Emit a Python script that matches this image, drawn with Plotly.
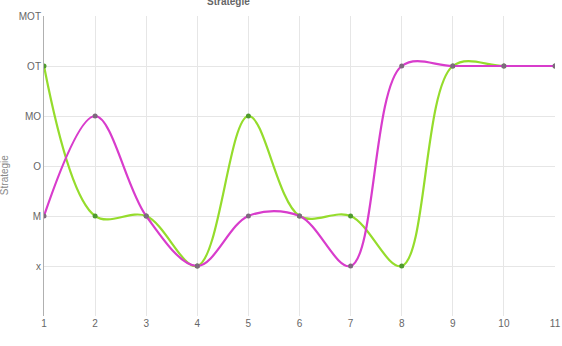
import plotly.graph_objects as go

x_vals = [1, 2, 3, 4, 5, 6, 7, 8, 9, 10, 11]
level_labels = ["x", "M", "O", "MO", "OT", "MOT"]
level_vals = [1, 2, 3, 4, 5, 6]
series_green = [5, 2, 2, 1, 4, 2, 2, 1, 5, 5, 5]
series_magenta = [2, 4, 2, 1, 2, 2, 1, 5, 5, 5, 5]

FONT = "Liberation Sans, Arial, sans-serif"
fig = go.Figure()
fig.add_trace(go.Scatter(
    x=x_vals, y=series_green, mode="lines+markers",
    line=dict(color="#95dc2c", width=2.2, shape="spline", smoothing=1.0),
    marker=dict(color="#4f9a2e", size=5), showlegend=False))
fig.add_trace(go.Scatter(
    x=x_vals, y=series_magenta, mode="lines+markers",
    line=dict(color="#d83ccc", width=2.2, shape="spline", smoothing=1.0),
    marker=dict(color="#7d6a7d", size=5), showlegend=False))

fig.update_layout(
    template="none",
    width=562, height=346,
    margin=dict(l=44, r=7, t=16, b=30, autoexpand=False),
    paper_bgcolor="white", plot_bgcolor="white",
    font=dict(family=FONT, size=10, color="#666666"),
    xaxis=dict(range=[1, 11], tickvals=x_vals, showgrid=True, gridcolor="#e6e6e6",
               zeroline=False, showline=False, ticks="", ticklen=0,
               ticklabeloverflow="allow",
               tickfont=dict(family=FONT, size=10, color="#666666"), automargin=False),
    yaxis=dict(range=[0, 6], tickvals=[0] + level_vals, ticktext=[""] + level_labels,
               showgrid=True, gridcolor="#e6e6e6", zeroline=False,
               showline=True, linecolor="#b0b0b0", linewidth=1, ticks="", ticklen=0,
               tickfont=dict(family=FONT, size=10, color="#666666"), automargin=False),
    annotations=[
        dict(text="<b>Strategie</b>", xref="paper", yref="paper", x=0.315, y=1,
             yanchor="middle", yshift=15, showarrow=False,
             font=dict(family=FONT, size=10, color="#666666")),
        dict(text="Strategie", xref="paper", yref="paper", x=-0.078, y=0.47,
             textangle=-90, showarrow=False, xanchor="center", yanchor="middle",
             font=dict(family=FONT, size=10, color="#888888")),
    ],
)
fig.write_html("out.html")
